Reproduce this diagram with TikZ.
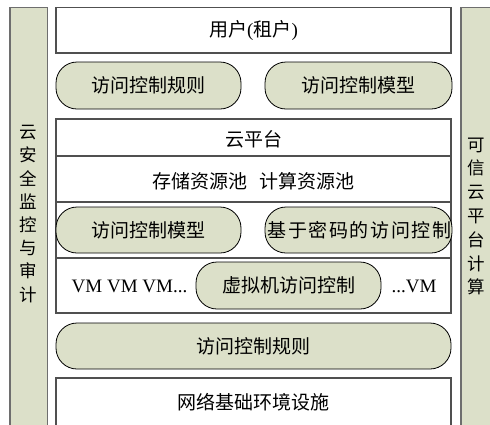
\documentclass[tikz,border=0pt]{standalone}
\usepackage{fontspec}
\setmainfont{Liberation Serif}
\newfontfamily\cjk{Noto Sans CJK SC}
\newfontfamily\cjkwide[LetterSpace=8]{Noto Sans CJK SC}
\definecolor{sage}{HTML}{DCE0C9}
\definecolor{boxline}{HTML}{505050}
\definecolor{barline}{HTML}{6E6E6E}
\begin{document}
\begin{tikzpicture}[x=1pt,y=-1pt,
  box/.style={draw=boxline, line width=1.2pt, fill=white},
  pill/.style={draw=black, line width=0.8pt, fill=sage, rounded corners=21pt},
  bar/.style={draw=barline, line width=1.6pt, fill=sage},
  cn/.style={font=\cjk\fontsize{19}{23}\selectfont, inner sep=0pt},
  vt/.style={font=\cjk\fontsize{17.5}{23.2}\selectfont, align=center, inner sep=0pt},
  lat/.style={font=\fontsize{19}{23}\selectfont, inner sep=0pt}]
\useasboundingbox (0,0) rectangle (490,424);
\clip (0,0) rectangle (490,424);
\fill[white] (0,0) rectangle (490,424);
% side bars
\draw[bar] (10,7.5) rectangle (47.5,440);
\draw[bar] (461,7.5) rectangle (500,440);
\node[vt] (ltext) at (28.5,214) {云\\安\\全\\监\\控\\与\\审\\计};
\node[vt, font=\cjk\fontsize{17.5}{23.8}\selectfont] (rtext) at (476.5,216.5) {可\\信\\云\\平\\台\\计\\算};
% top box
\draw[box] (56,7.5) rectangle (451,53);
\node[cn] (user) at (253.5,30) {\cjk{用户}\fontspec{Liberation Serif}(\cjk{租户}\fontspec{Liberation Serif})};
% pill row 1
\draw[pill] (56,62) rectangle (241,109);
\node[cn] (rule1) at (148.5,85.5) {访问控制规则};
\draw[pill] (265,62) rectangle (452,109);
\node[cn] (model1) at (358.5,85.5) {访问控制模型};
% cloud platform group
\draw[box] (56,119) rectangle (451,156);
\node[cn] (platform) at (253.5,139) {云平台};
\draw[box] (56,156) rectangle (451,202);
\node[cn] (pools) at (253.5,181) {存储资源池\hspace{0.6em}计算资源池};
\draw[box] (56,202) rectangle (451,258);
\draw[pill] (56,207) rectangle (241,253);
\node[cn] (model2) at (148.5,230) {访问控制模型};
\draw[pill] (265,207) rectangle (452,253);
\node[cn, font=\cjkwide\fontsize{19}{23}\selectfont] (crypto) at (359.5,230) {基于密码的访问控制};
\draw[box] (56,258) rectangle (451,313);
\node[lat, anchor=west] (vms) at (71.5,286) {VM VM VM...};
\draw[pill] (196,262) rectangle (381,309);
\node[cn] (vmac) at (288.5,285.5) {虚拟机访问控制};
\node[lat] (vmlast) at (414,286) {...VM};
% wide pill
\draw[pill] (56,323) rectangle (451,369);
\node[cn] (rule2) at (253.5,346) {访问控制规则};
% bottom box
\draw[box] (56,378) rectangle (451,440);
\node[cn] (net) at (253.5,402) {网络基础环境设施};
\end{tikzpicture}
\end{document}
